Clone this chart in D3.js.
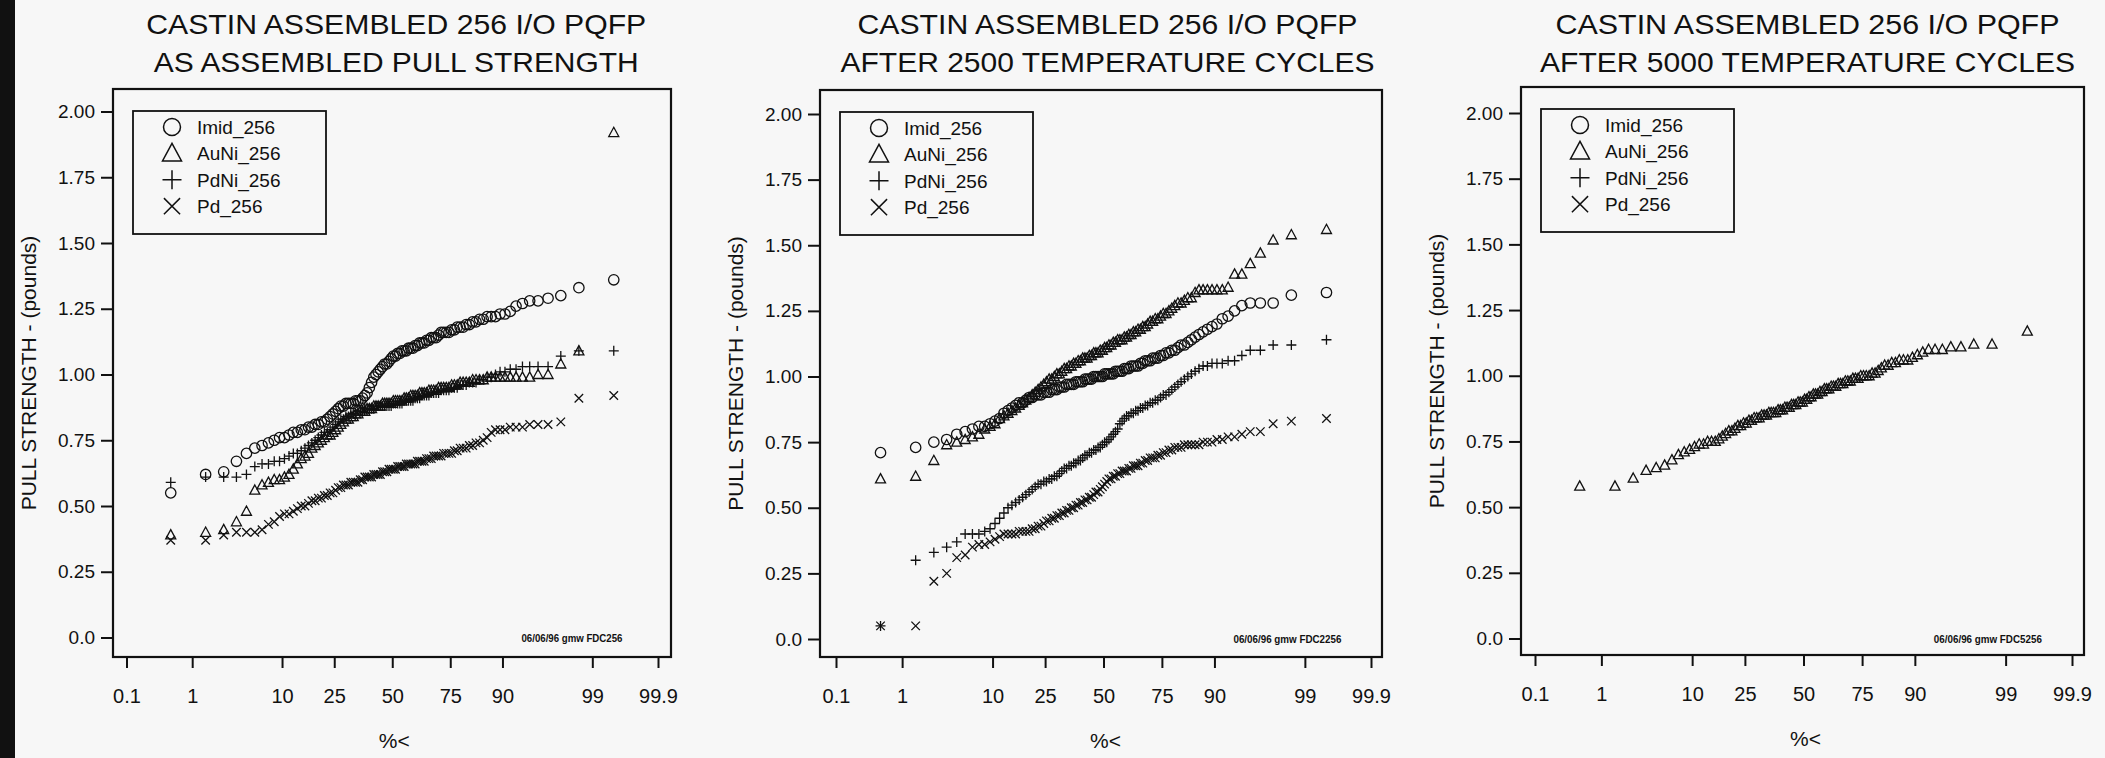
<!DOCTYPE html>
<html>
<head>
<meta charset="utf-8">
<script src="https://cdn.jsdelivr.net/npm/d3@7"></script>
<style>
  body { margin: 0; background: #f7f7f7; }
  svg { display: block; }
  text { font-family: "Liberation Sans", Arial, Helvetica, sans-serif; fill: #111; }
</style>
</head>
<body>
<svg id="chart" width="2105" height="758"></svg>
<script>
// tick labels shared by the three panels
var xTickPct = [0.1, 1, 10, 25, 50, 75, 90, 99, 99.9];
var xTickLabels = ["0.1", "1", "10", "25", "50", "75", "90", "99", "99.9"];
var yTickVals = [0, 0.25, 0.5, 0.75, 1, 1.25, 1.5, 1.75, 2];
var yTickLabels = ["0.0", "0.25", "0.50", "0.75", "1.00", "1.25", "1.50", "1.75", "2.00"];

var seriesNames = ["Imid_256", "AuNi_256", "PdNi_256", "Pd_256"];

// sorted pull strengths (pounds), 100 leads per finish
// --- as assembled
var imid1 = [
0.55, 0.62, 0.63, 0.67, 0.70, 0.72, 0.73, 0.74, 0.75, 0.76,
0.76, 0.77, 0.78, 0.78, 0.79, 0.79, 0.80, 0.80, 0.81, 0.81,
0.82, 0.82, 0.83, 0.84, 0.85, 0.86, 0.87, 0.88, 0.88, 0.89,
0.89, 0.89, 0.89, 0.90, 0.90, 0.90, 0.91, 0.92, 0.93, 0.95,
0.97, 0.99, 1.00, 1.01, 1.02, 1.03, 1.04, 1.04, 1.05, 1.06,
1.07, 1.07, 1.08, 1.08, 1.09, 1.09, 1.09, 1.10, 1.10, 1.10,
1.11, 1.11, 1.12, 1.12, 1.12, 1.13, 1.13, 1.14, 1.14, 1.14,
1.15, 1.16, 1.16, 1.16, 1.16, 1.17, 1.17, 1.18, 1.18, 1.18,
1.19, 1.19, 1.20, 1.20, 1.21, 1.21, 1.22, 1.22, 1.22, 1.23,
1.23, 1.24, 1.26, 1.27, 1.28, 1.28, 1.29, 1.30, 1.33, 1.36];
var auni1 = [
0.39, 0.40, 0.41, 0.44, 0.48, 0.56, 0.58, 0.59, 0.60, 0.60,
0.61, 0.62, 0.64, 0.66, 0.68, 0.69, 0.70, 0.72, 0.73, 0.74,
0.75, 0.76, 0.77, 0.77, 0.78, 0.79, 0.80, 0.81, 0.82, 0.83,
0.83, 0.84, 0.84, 0.85, 0.85, 0.86, 0.86, 0.86, 0.87, 0.87,
0.87, 0.88, 0.88, 0.88, 0.88, 0.89, 0.89, 0.89, 0.89, 0.89,
0.90, 0.90, 0.90, 0.90, 0.90, 0.91, 0.91, 0.91, 0.92, 0.92,
0.92, 0.92, 0.93, 0.93, 0.93, 0.93, 0.94, 0.94, 0.94, 0.94,
0.95, 0.95, 0.95, 0.95, 0.95, 0.96, 0.96, 0.96, 0.97, 0.97,
0.97, 0.97, 0.98, 0.98, 0.98, 0.98, 0.99, 0.99, 0.99, 0.99,
0.99, 0.99, 0.99, 0.99, 0.99, 1.00, 1.00, 1.04, 1.09, 1.92];
var pdni1 = [
0.59, 0.61, 0.61, 0.61, 0.62, 0.65, 0.66, 0.66, 0.67, 0.67,
0.68, 0.69, 0.70, 0.70, 0.71, 0.72, 0.73, 0.74, 0.75, 0.76,
0.77, 0.78, 0.78, 0.79, 0.80, 0.81, 0.82, 0.83, 0.83, 0.84,
0.84, 0.85, 0.85, 0.85, 0.86, 0.86, 0.86, 0.87, 0.87, 0.87,
0.87, 0.87, 0.88, 0.88, 0.88, 0.88, 0.88, 0.88, 0.88, 0.88,
0.89, 0.89, 0.89, 0.89, 0.89, 0.90, 0.90, 0.90, 0.90, 0.90,
0.91, 0.91, 0.91, 0.92, 0.92, 0.92, 0.92, 0.93, 0.93, 0.93,
0.93, 0.94, 0.94, 0.94, 0.94, 0.95, 0.95, 0.95, 0.96, 0.96,
0.96, 0.97, 0.97, 0.97, 0.98, 0.98, 0.99, 0.99, 1.00, 1.01,
1.01, 1.02, 1.02, 1.03, 1.03, 1.03, 1.03, 1.07, 1.09, 1.09];
var pd1 = [
0.37, 0.37, 0.39, 0.40, 0.40, 0.40, 0.41, 0.43, 0.44, 0.46,
0.47, 0.47, 0.48, 0.49, 0.50, 0.50, 0.51, 0.52, 0.52, 0.53,
0.53, 0.54, 0.54, 0.55, 0.55, 0.56, 0.57, 0.57, 0.58, 0.58,
0.58, 0.59, 0.59, 0.59, 0.59, 0.60, 0.60, 0.61, 0.61, 0.61,
0.61, 0.62, 0.62, 0.62, 0.62, 0.63, 0.63, 0.63, 0.64, 0.64,
0.64, 0.64, 0.65, 0.65, 0.65, 0.65, 0.66, 0.66, 0.66, 0.66,
0.66, 0.67, 0.67, 0.67, 0.67, 0.68, 0.68, 0.68, 0.69, 0.69,
0.69, 0.69, 0.70, 0.70, 0.70, 0.70, 0.71, 0.71, 0.72, 0.72,
0.72, 0.73, 0.73, 0.74, 0.74, 0.75, 0.76, 0.78, 0.79, 0.79,
0.79, 0.80, 0.80, 0.80, 0.81, 0.81, 0.81, 0.82, 0.91, 0.92];

// --- after 2500 temperature cycles
var imid2 = [
0.71, 0.73, 0.75, 0.76, 0.78, 0.79, 0.80, 0.81, 0.81, 0.82,
0.83, 0.84, 0.86, 0.87, 0.88, 0.89, 0.90, 0.90, 0.91, 0.92,
0.92, 0.93, 0.93, 0.93, 0.94, 0.94, 0.94, 0.95, 0.95, 0.95,
0.96, 0.96, 0.96, 0.97, 0.97, 0.97, 0.97, 0.98, 0.98, 0.98,
0.98, 0.99, 0.99, 0.99, 0.99, 1.00, 1.00, 1.00, 1.00, 1.00,
1.01, 1.01, 1.01, 1.01, 1.01, 1.02, 1.02, 1.02, 1.02, 1.03,
1.03, 1.03, 1.04, 1.04, 1.04, 1.04, 1.05, 1.05, 1.06, 1.06,
1.06, 1.07, 1.07, 1.07, 1.08, 1.08, 1.09, 1.09, 1.10, 1.10,
1.11, 1.12, 1.12, 1.13, 1.14, 1.15, 1.16, 1.17, 1.18, 1.19,
1.20, 1.22, 1.23, 1.25, 1.27, 1.28, 1.28, 1.28, 1.31, 1.32];
var auni2 = [
0.61, 0.62, 0.68, 0.74, 0.75, 0.76, 0.77, 0.78, 0.80, 0.81,
0.82, 0.84, 0.85, 0.86, 0.87, 0.88, 0.89, 0.90, 0.91, 0.92,
0.93, 0.94, 0.95, 0.96, 0.97, 0.98, 0.99, 0.99, 1.00, 1.01,
1.01, 1.02, 1.03, 1.03, 1.04, 1.04, 1.05, 1.05, 1.06, 1.06,
1.07, 1.07, 1.07, 1.08, 1.08, 1.09, 1.09, 1.09, 1.10, 1.10,
1.11, 1.11, 1.12, 1.12, 1.13, 1.13, 1.14, 1.14, 1.14, 1.15,
1.15, 1.16, 1.16, 1.17, 1.17, 1.18, 1.18, 1.19, 1.19, 1.20,
1.21, 1.21, 1.22, 1.22, 1.23, 1.24, 1.24, 1.25, 1.26, 1.27,
1.28, 1.28, 1.29, 1.30, 1.30, 1.32, 1.33, 1.33, 1.33, 1.33,
1.33, 1.33, 1.34, 1.39, 1.39, 1.43, 1.47, 1.52, 1.54, 1.56];
var pdni2 = [
0.05, 0.30, 0.33, 0.35, 0.37, 0.40, 0.40, 0.40, 0.41, 0.42,
0.44, 0.46, 0.48, 0.50, 0.51, 0.52, 0.53, 0.54, 0.55, 0.56,
0.57, 0.58, 0.59, 0.59, 0.60, 0.60, 0.61, 0.61, 0.62, 0.62,
0.63, 0.64, 0.65, 0.65, 0.66, 0.66, 0.67, 0.67, 0.68, 0.68,
0.69, 0.70, 0.70, 0.71, 0.71, 0.72, 0.72, 0.73, 0.73, 0.74,
0.75, 0.75, 0.76, 0.77, 0.78, 0.79, 0.80, 0.82, 0.83, 0.84,
0.85, 0.85, 0.86, 0.86, 0.87, 0.87, 0.88, 0.88, 0.89, 0.89,
0.90, 0.90, 0.91, 0.91, 0.92, 0.93, 0.93, 0.94, 0.95, 0.96,
0.97, 0.98, 0.99, 1.00, 1.01, 1.02, 1.03, 1.04, 1.04, 1.05,
1.05, 1.05, 1.06, 1.06, 1.08, 1.10, 1.10, 1.12, 1.12, 1.14];
var pd2 = [
0.05, 0.05, 0.22, 0.25, 0.31, 0.32, 0.35, 0.36, 0.36, 0.37,
0.38, 0.39, 0.40, 0.40, 0.40, 0.40, 0.41, 0.41, 0.41, 0.41,
0.42, 0.42, 0.43, 0.43, 0.44, 0.45, 0.45, 0.46, 0.46, 0.47,
0.47, 0.48, 0.48, 0.49, 0.49, 0.50, 0.50, 0.51, 0.51, 0.52,
0.52, 0.53, 0.53, 0.54, 0.54, 0.55, 0.56, 0.56, 0.57, 0.58,
0.59, 0.60, 0.61, 0.61, 0.62, 0.62, 0.63, 0.63, 0.64, 0.64,
0.64, 0.65, 0.65, 0.66, 0.66, 0.66, 0.67, 0.67, 0.68, 0.68,
0.69, 0.69, 0.69, 0.70, 0.70, 0.71, 0.71, 0.72, 0.72, 0.73,
0.73, 0.73, 0.74, 0.74, 0.74, 0.74, 0.74, 0.75, 0.75, 0.75,
0.76, 0.76, 0.77, 0.77, 0.78, 0.79, 0.79, 0.82, 0.83, 0.84];

// --- after 5000 temperature cycles (only AuNi left)
var auni3 = [
0.58, 0.58, 0.61, 0.64, 0.65, 0.66, 0.68, 0.70, 0.71, 0.72,
0.73, 0.74, 0.74, 0.75, 0.75, 0.75, 0.76, 0.77, 0.78, 0.79,
0.79, 0.80, 0.81, 0.81, 0.82, 0.82, 0.83, 0.83, 0.84, 0.84,
0.84, 0.85, 0.85, 0.85, 0.86, 0.86, 0.86, 0.86, 0.87, 0.87,
0.87, 0.88, 0.88, 0.88, 0.89, 0.89, 0.89, 0.90, 0.90, 0.90,
0.91, 0.91, 0.92, 0.92, 0.93, 0.93, 0.93, 0.94, 0.94, 0.95,
0.95, 0.95, 0.96, 0.96, 0.96, 0.97, 0.97, 0.97, 0.98, 0.98,
0.98, 0.99, 0.99, 0.99, 1.00, 1.00, 1.00, 1.00, 1.01, 1.01,
1.02, 1.03, 1.04, 1.04, 1.05, 1.05, 1.06, 1.06, 1.06, 1.07,
1.08, 1.09, 1.10, 1.10, 1.10, 1.11, 1.11, 1.12, 1.12, 1.17];

// page layout of the three panels (pixels)
var panels = [
  { title: ["CASTIN ASSEMBLED 256 I/O PQFP", "AS ASSEMBLED PULL STRENGTH"], titleW: [500, 485],
    note: "06/06/96 gmw FDC256", noteW: 101,
    left: 113, right: 671, top: 89, bottom: 657, x01: 126.5, x999: 658, y0: 637.5, y2: 111.5,
    data: [imid1, auni1, pdni1, pd1] },
  { title: ["CASTIN ASSEMBLED 256 I/O PQFP", "AFTER 2500 TEMPERATURE CYCLES"], titleW: [500, 534],
    note: "06/06/96 gmw FDC2256", noteW: 108,
    left: 820, right: 1382, top: 90, bottom: 657, x01: 836, x999: 1371, y0: 639, y2: 114,
    data: [imid2, auni2, pdni2, pd2] },
  { title: ["CASTIN ASSEMBLED 256 I/O PQFP", "AFTER 5000 TEMPERATURE CYCLES"], titleW: [504, 535],
    note: "06/06/96 gmw FDC5256", noteW: 108,
    left: 1521, right: 2084, top: 87, bottom: 655, x01: 1535, x999: 2072, y0: 638.5, y2: 113,
    data: [null, auni3, null, null] }
];

// inverse of the standard normal CDF (Acklam), used for the probability axis
function probit(p) {
  var a = [-3.969683028665376e+01, 2.209460984245205e+02, -2.759285104469687e+02, 1.383577518672690e+02, -3.066479806614716e+01, 2.506628277459239e+00];
  var b = [-5.447609879822406e+01, 1.615858368580409e+02, -1.556989798598866e+02, 6.680131188771972e+01, -1.328068155288572e+01];
  var c = [-7.784894002430293e-03, -3.223964580411365e-01, -2.400758277161838e+00, -2.549732539343734e+00, 4.374664141464968e+00, 2.938163982698783e+00];
  var d = [7.784695709041462e-03, 3.224671290700398e-01, 2.445134137142996e+00, 3.754408661907416e+00];
  var pl = 0.02425, q, r;
  if (p < pl) {
    q = Math.sqrt(-2 * Math.log(p));
    return (((((c[0]*q+c[1])*q+c[2])*q+c[3])*q+c[4])*q+c[5]) / ((((d[0]*q+d[1])*q+d[2])*q+d[3])*q+1);
  }
  if (p > 1 - pl) {
    q = Math.sqrt(-2 * Math.log(1 - p));
    return -(((((c[0]*q+c[1])*q+c[2])*q+c[3])*q+c[4])*q+c[5]) / ((((d[0]*q+d[1])*q+d[2])*q+d[3])*q+1);
  }
  q = p - 0.5; r = q * q;
  return (((((a[0]*r+a[1])*r+a[2])*r+a[3])*r+a[4])*r+a[5])*q / (((((b[0]*r+b[1])*r+b[2])*r+b[3])*r+b[4])*r+1);
}

// marker shapes: 0 circle, 1 triangle, 2 plus, 3 cross (s = half size)
function drawSymbol(sel, k, s, sw) {
  if (k === 0) {
    sel.append("circle").attr("r", s).attr("fill", "none").attr("stroke", "#111").attr("stroke-width", sw);
    return;
  }
  var d;
  if (k === 1) d = "M0," + (-s * 1.05) + "L" + s + "," + (s * 0.8) + "L" + (-s) + "," + (s * 0.8) + "Z";
  if (k === 2) d = "M" + (-s) + ",0H" + s + "M0," + (-s) + "V" + s;
  if (k === 3) { var e = s * 0.85; d = "M" + (-e) + "," + (-e) + "L" + e + "," + e + "M" + (-e) + "," + e + "L" + e + "," + (-e); }
  sel.append("path").attr("d", d).attr("fill", "none").attr("stroke", "#111").attr("stroke-width", sw);
}

var svg = d3.select("#chart");
svg.append("rect").attr("width", 2105).attr("height", 758).attr("fill", "#f7f7f7");
// dark scanner edge on the left
svg.append("rect").attr("x", 0).attr("y", 0).attr("width", 15).attr("height", 758).attr("fill", "#111");

panels.forEach(function(p) {
  var g = svg.append("g");

  var zx = d3.scaleLinear().domain([probit(0.001), probit(0.999)]).range([p.x01, p.x999]);
  var y = d3.scaleLinear().domain([0, 2]).range([p.y0, p.y2]);
  var cx = zx(0);

  // title
  p.title.forEach(function(t, i) {
    g.append("text").attr("x", cx + 4).attr("y", 34 + i * 38)
      .attr("text-anchor", "middle").attr("font-size", 28)
      .attr("textLength", p.titleW[i]).attr("lengthAdjust", "spacingAndGlyphs")
      .text(t);
  });

  // axes
  var yAxis = d3.axisLeft(y).tickValues(yTickVals)
    .tickFormat(function(d, i) { return yTickLabels[i]; })
    .tickSize(12).tickPadding(6);
  g.append("g").attr("transform", "translate(" + p.left + ",0)").call(yAxis)
    .call(function(a) {
      a.select(".domain").remove();
      a.attr("font-size", 19).attr("font-family", null).attr("color", "#111");
      a.selectAll("line").attr("stroke-width", 2);
    });

  var xAxis = d3.axisBottom(zx)
    .tickValues(xTickPct.map(function(v) { return probit(v / 100); }))
    .tickFormat(function(d, i) { return xTickLabels[i]; })
    .tickSize(11).tickPadding(21);
  g.append("g").attr("transform", "translate(0," + p.bottom + ")").call(xAxis)
    .call(function(a) {
      a.select(".domain").remove();
      a.attr("font-size", 20).attr("font-family", null).attr("color", "#111");
      a.selectAll("line").attr("stroke-width", 2);
    });

  // frame
  g.append("rect").attr("x", p.left).attr("y", p.top)
    .attr("width", p.right - p.left).attr("height", p.bottom - p.top)
    .attr("fill", "none").attr("stroke", "#111").attr("stroke-width", 2.2);

  // axis titles
  g.append("text").attr("transform", "translate(" + (p.left - 77) + "," + ((p.top + p.bottom) / 2) + ") rotate(-90)")
    .attr("text-anchor", "middle").attr("font-size", 21).text("PULL STRENGTH - (pounds)");
  g.append("text").attr("x", cx + 2).attr("y", p.bottom + 91)
    .attr("text-anchor", "middle").attr("font-size", 21).text("%<");

  // footnote
  g.append("text").attr("x", zx(probit(0.9)) + 19).attr("y", p.y0 + 4)
    .attr("font-size", 10).attr("font-weight", "bold")
    .attr("textLength", p.noteW).attr("lengthAdjust", "spacingAndGlyphs")
    .text(p.note);

  // legend
  var lx = p.left + 20, ly = p.top + 22;
  var lg = g.append("g").attr("transform", "translate(" + lx + "," + ly + ")");
  lg.append("rect").attr("width", 193).attr("height", 123)
    .attr("fill", "none").attr("stroke", "#111").attr("stroke-width", 1.8);
  seriesNames.forEach(function(name, k) {
    var row = lg.append("g").attr("transform", "translate(0," + (16 + k * 26.4) + ")");
    drawSymbol(row.append("g").attr("transform", "translate(39,0)"), k, k === 0 ? 8.5 : 9.5, 1.5);
    row.append("text").attr("x", 64).attr("dy", "0.36em").attr("font-size", 19).text(name);
  });

  // points, plotted at median-rank positions (i - 0.5) / n
  p.data.forEach(function(vals, k) {
    if (!vals) return;
    var n = vals.length;
    g.append("g").selectAll("g").data(vals).enter().append("g")
      .attr("transform", function(v, i) {
        return "translate(" + zx(probit((i + 0.5) / n)) + "," + y(v) + ")";
      })
      .each(function() { drawSymbol(d3.select(this), k, k === 0 ? 5.2 : 5, 1.3); });
  });
});
</script>
</body>
</html>
